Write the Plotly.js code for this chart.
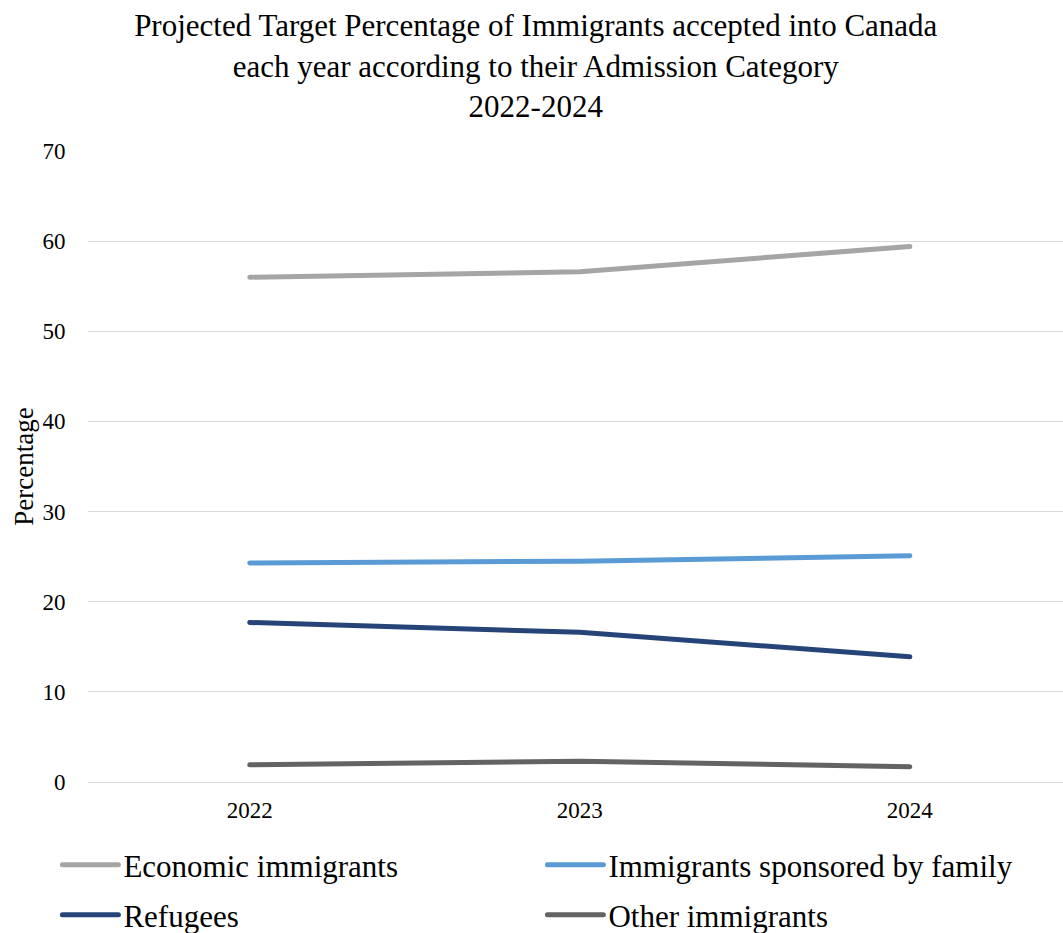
<!DOCTYPE html>
<html>
<head>
<meta charset="utf-8">
<script src="https://cdn.plot.ly/plotly-3.0.1.min.js"></script>
<style>
html,body{margin:0;padding:0;background:#fff;}
#chart{width:1063px;height:933px;}
.js-line, .legendlines path { stroke-linecap: round; }
</style>
</head>
<body>
<div id="chart"></div>
<script>
const years = ["2022", "2023", "2024"];
const seriesNames = ["Economic immigrants", "Immigrants sponsored by family", "Refugees", "Other immigrants"];
const economic = [56.0, 56.6, 59.4];
const family = [24.3, 24.5, 25.1];
const refugees = [17.7, 16.6, 13.9];
const other = [1.9, 2.3, 1.7];
const colors = ["#A5A5A5", "#5B9BD5", "#264478", "#636363"];
const yTicks = [0, 10, 20, 30, 40, 50, 60, 70];

const FONT = "'Liberation Serif', 'Times New Roman', serif";
const values = [economic, family, refugees, other];
const legendIds = ['legend', 'legend', 'legend2', 'legend2'];
const traces = values.map((v, i) => ({
  type: 'scatter',
  mode: 'lines',
  x: years,
  y: v,
  name: seriesNames[i],
  legend: legendIds[i],
  line: {color: colors[i], width: 5, shape: 'linear'},
  hoverinfo: 'x+y+name'
}));

const legendBase = {
  orientation: 'h',
  xref: 'container', yref: 'container',
  x: 0.054, xanchor: 'left',
  yanchor: 'middle',
  font: {family: FONT, size: 31, color: '#000000'},
  entrywidth: 414,
  entrywidthmode: 'pixels',
  itemwidth: 56,
  bgcolor: 'rgba(0,0,0,0)'
};

const layout = {
  width: 1063,
  height: 933,
  paper_bgcolor: '#ffffff',
  plot_bgcolor: '#ffffff',
  font: {family: FONT, color: '#000000'},
  margin: {l: 88, r: 0, t: 151, b: 151, pad: 0},
  title: {
    text: 'Projected Target Percentage of Immigrants accepted into Canada<br>each year according to their Admission Category<br>2022-2024',
    font: {family: FONT, size: 31, color: '#000000'},
    x: 0.504, xanchor: 'center',
    y: 0.961, yanchor: 'top', yref: 'container'
  },
  xaxis: {
    type: 'category',
    range: [-0.49, 2.464],
    showgrid: false,
    showline: false,
    zeroline: false,
    ticks: 'outside',
    ticklen: 7,
    tickcolor: 'rgba(0,0,0,0)',
    tickfont: {family: FONT, size: 23, color: '#000000'}
  },
  yaxis: {
    range: [0, 70],
    tickvals: yTicks,
    showgrid: true,
    gridcolor: '#D9D9D9',
    gridwidth: 1.4,
    zeroline: true,
    zerolinecolor: '#D9D9D9',
    zerolinewidth: 1.4,
    showline: false,
    ticks: 'outside',
    ticklen: 17,
    tickcolor: 'rgba(0,0,0,0)',
    tickfont: {family: FONT, size: 23, color: '#000000'},
    title: {text: 'Percentage', font: {family: FONT, size: 27, color: '#000000'}, standoff: 0}
  },
  showlegend: true,
  legend: Object.assign({}, legendBase, {y: 1 - 865 / 933}),
  legend2: Object.assign({}, legendBase, {y: 1 - 915 / 933})
};

Plotly.newPlot('chart', traces, layout, {displayModeBar: false, responsive: false});
</script>
</body>
</html>
